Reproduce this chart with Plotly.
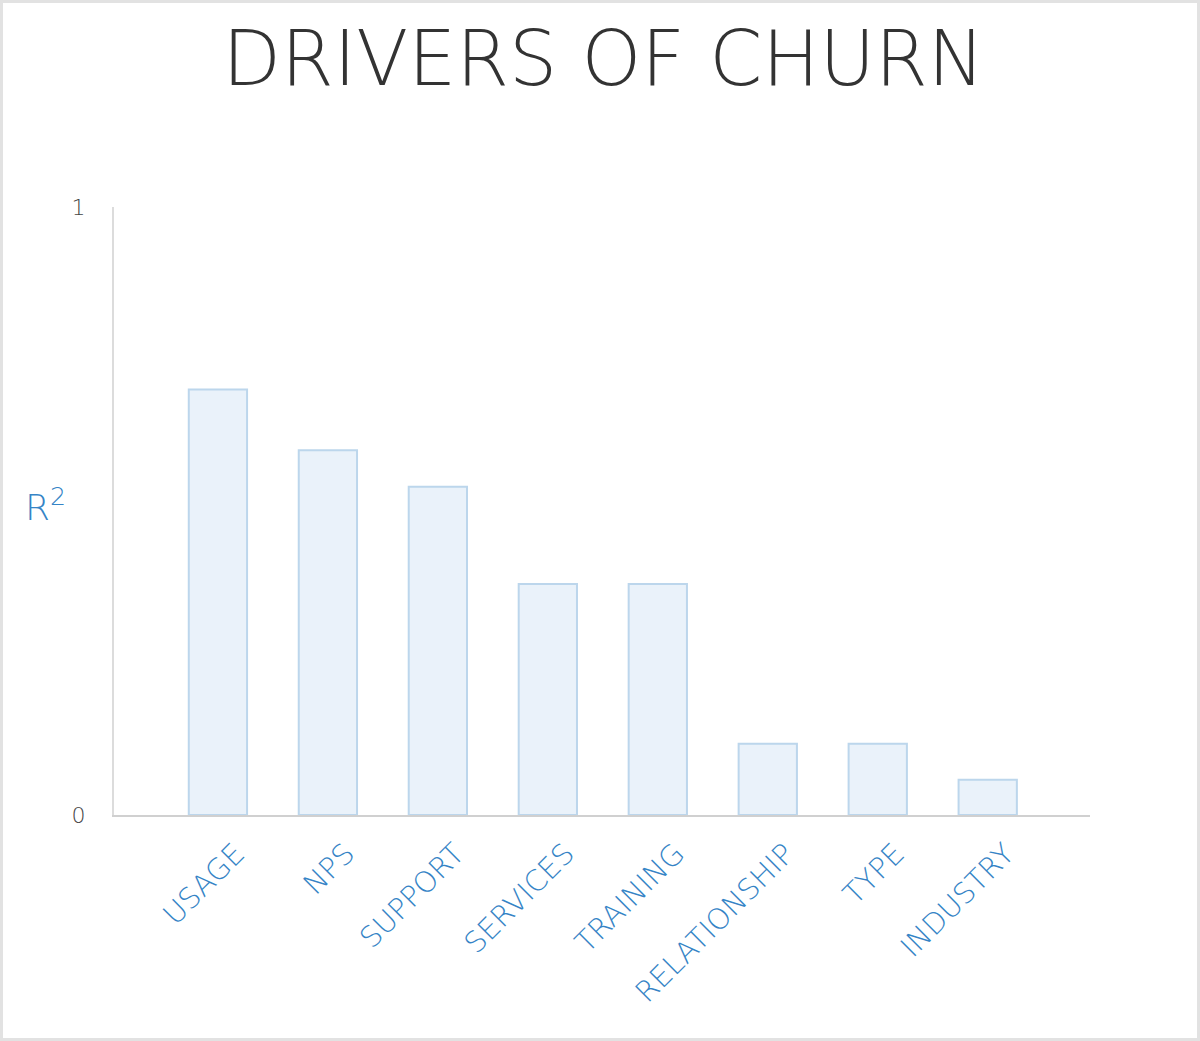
import plotly.graph_objects as go

categories = ["USAGE", "NPS", "SUPPORT", "SERVICES", "TRAINING", "RELATIONSHIP", "TYPE", "INDUSTRY"]
r_squared = [0.70, 0.60, 0.54, 0.38, 0.38, 0.117, 0.117, 0.058]
y_tick_vals = [0, 1]
y_tick_text = ["0", "1"]

W, H = 1200, 1041
ML, MR, MT, MB = 114, 110, 207, 226
PW, PH = W - ML - MR, H - MT - MB

fig = go.Figure()
fig.add_trace(go.Bar(
    x=categories, y=r_squared, width=0.53,
    marker=dict(color="#eaf2fa", line=dict(color="#bcd6ec", width=2)),
    hoverinfo="x+y",
))

blue = "#3584c6"
thin = "'DejaVu Sans ExtraLight', 'DejaVu Sans', sans-serif"
fig.update_layout(
    width=W, height=H,
    margin=dict(l=ML, r=MR, t=MT, b=MB, autoexpand=False),
    paper_bgcolor="white", plot_bgcolor="white",
    showlegend=False,
    title=dict(text="DRIVERS OF CHURN", x=0.503, xanchor="center", y=1 - 58 / H, yanchor="middle",
               font=dict(family=thin, size=76, color="#333333", weight=200)),
    xaxis=dict(type="category", range=[-0.945, 7.93], showline=True, linecolor="#d0d0d0", linewidth=2,
               showgrid=False, ticks="", tickangle=-45, ticklabelstandoff=8, ticklabelshift=18,
               tickfont=dict(family=thin, size=29, color=blue, weight=200)),
    yaxis=dict(range=[0, 1], showline=True, linecolor="#dcdcdc", linewidth=2, showgrid=False,
               zeroline=False, tickvals=y_tick_vals, ticktext=y_tick_text, ticks="outside",
               ticklen=22, tickcolor="rgba(0,0,0,0)",
               tickfont=dict(family=thin, size=22, color="#444444", weight=200)),
    shapes=[dict(type="rect", xref="paper", yref="paper",
                 x0=-ML / PW, x1=(W - ML) / PW, y0=-MB / PH, y1=1 + MT / PH,
                 line=dict(color="#e2e2e2", width=6), fillcolor="rgba(0,0,0,0)", layer="above")],
    annotations=[dict(text="R<sup>2</sup>", xref="paper", yref="paper",
                      x=(45 - ML) / PW, y=(815 - 505) / PH, xanchor="center", yanchor="middle",
                      showarrow=False, font=dict(family=thin, size=36, color=blue, weight=200))],
)

fig.write_html("out.html")
